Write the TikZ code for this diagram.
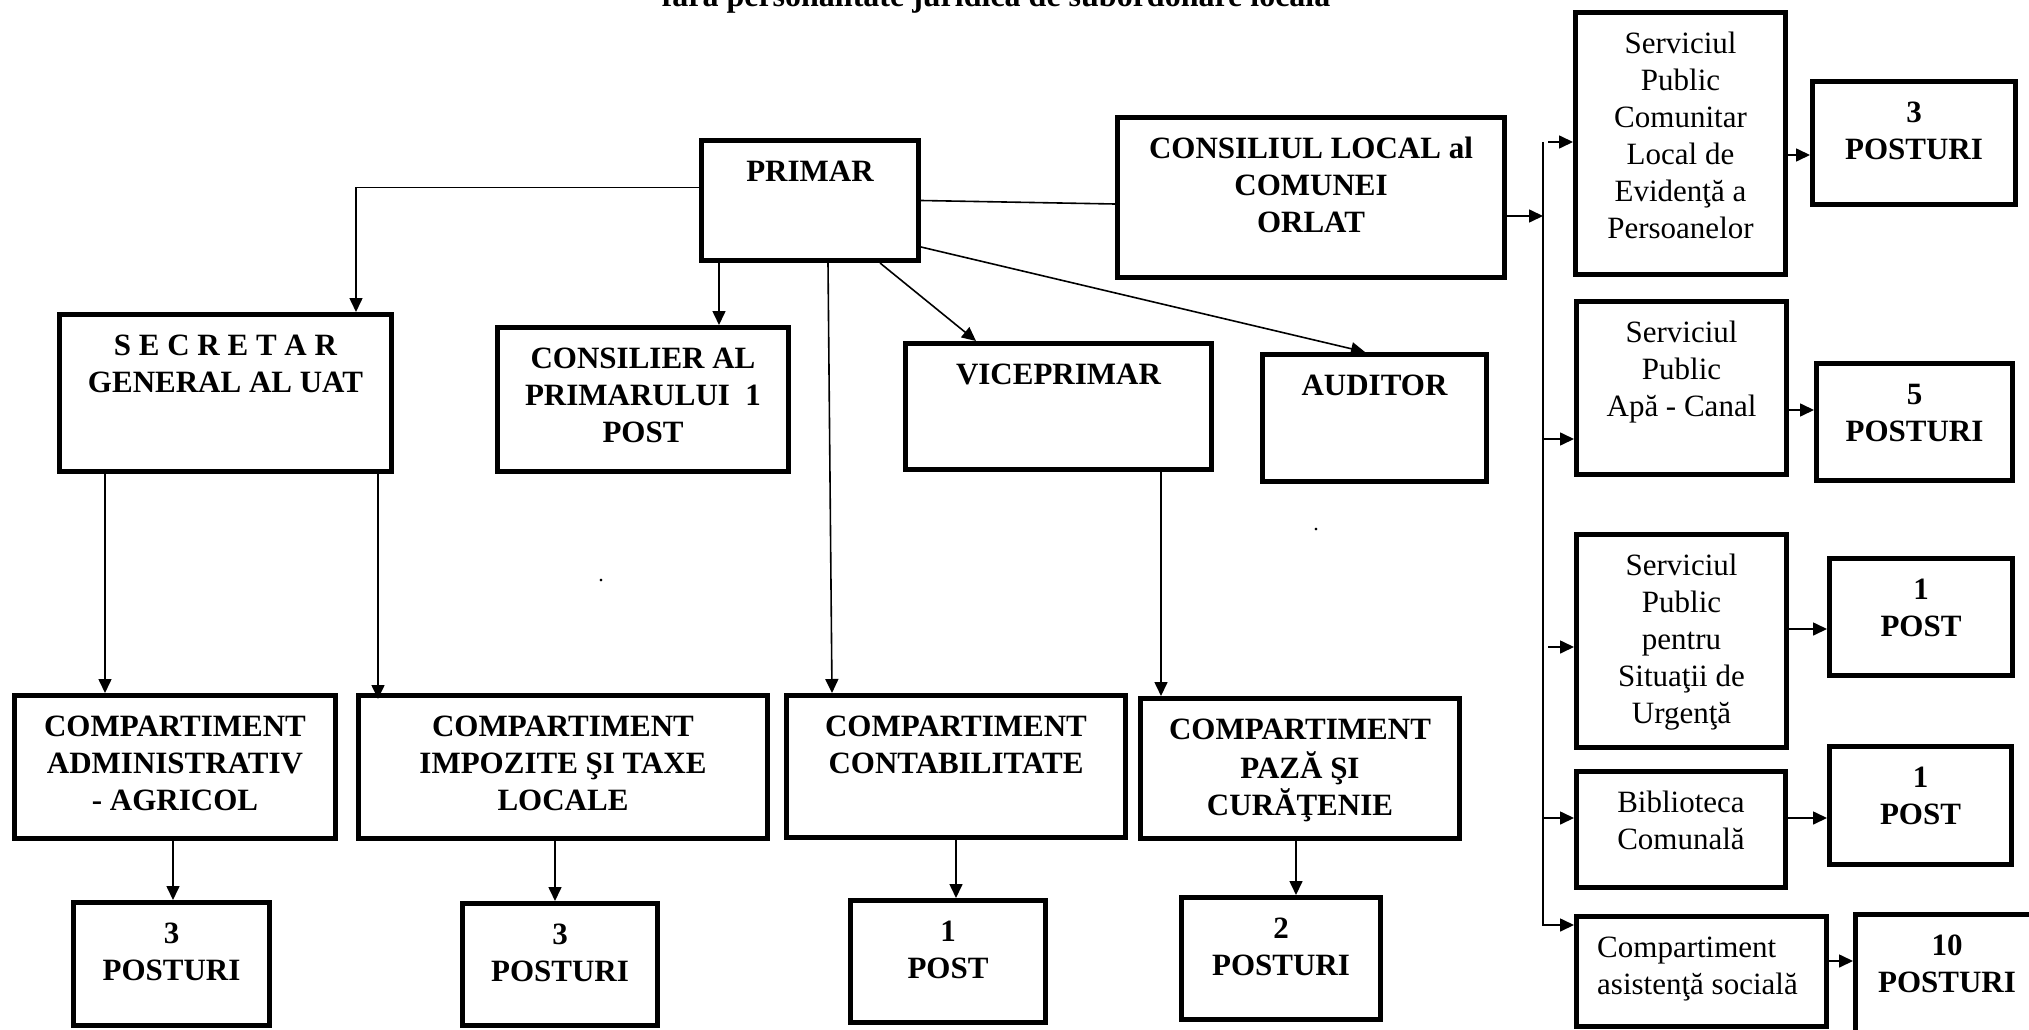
\documentclass[tikz,border=0pt]{standalone}
\usepackage{fontspec}
\setmainfont{Liberation Serif}
\usetikzlibrary{arrows.meta,calc}
\newcommand{\orgbx}[7]{%
  \node[orgbox, anchor=north west, minimum width={#4-#2-5.3}, minimum height={#5-#3-5.3}] (#1) at (#2,#3) {};
  \node[#6] (#1-txt) at ([yshift=-17.6pt]#1.north) {\strut #7};%
}
\begin{document}
\begin{tikzpicture}[x=1pt,y=-1pt,
  orgbox/.style={draw, line width=5.3pt, inner sep=0pt},
  lb/.style={font=\fontsize{31}{37}\selectfont\bfseries, align=center, inner sep=0pt, anchor=north},
  lr/.style={font=\fontsize{31}{37}\selectfont, align=center, inner sep=0pt, anchor=north},
  lra/.style={font=\fontsize{31}{37}\selectfont, align=left, inner sep=0pt, anchor=north west, xshift=-104.5pt},
  arr/.style={line width=1.6pt, -{Triangle[length=14pt,width=13pt]}},
  conn/.style={line width=1.6pt},
  titlef/.style={font=\fontsize{32}{38}\selectfont\bfseries, inner sep=0pt},
  dotf/.style={font=\fontsize{22}{26}\selectfont, inner sep=0pt}]
\useasboundingbox (0,0) rectangle (2029,1030);
\clip (0,0) rectangle (2029,1030);
\fill[white] (0,0) rectangle (2029,1030);

\node[titlef, anchor=base] (title) at (996,7) {fără personalitate juridică de subordonare locală};

% central boxes
\orgbx{primar}{699}{138}{921}{263}{lb}{PRIMAR}
\orgbx{secretar}{57}{312}{394}{474}{lb}{S E C R E T A R\\GENERAL AL UAT}
\orgbx{consilier}{495}{325}{791}{474}{lb}{CONSILIER AL\\PRIMARULUI~~1\\POST}
\orgbx{vice}{903}{341}{1214}{472}{lb}{VICEPRIMAR}
\orgbx{auditor}{1260}{352}{1489}{484}{lb}{AUDITOR}
\orgbx{cl}{1115}{115}{1507}{280}{lb}{CONSILIUL LOCAL al\\COMUNEI\\ORLAT}

\orgbx{admin}{12}{693}{338}{841}{lb}{COMPARTIMENT\\ADMINISTRATIV\\- AGRICOL}
\orgbx{impozite}{356}{693}{770}{841}{lb}{COMPARTIMENT\\IMPOZITE ŞI TAXE\\LOCALE}
\orgbx{contab}{784}{693}{1128}{840}{lb}{COMPARTIMENT\\CONTABILITATE}
\orgbx{paza}{1138}{696}{1462}{841}{lb}{COMPARTIMENT\\PAZĂ ŞI\\CURĂŢENIE}

\orgbx{pa}{71}{900}{272}{1028}{lb}{3\\POSTURI}
\orgbx{pb}{460}{901}{660}{1028}{lb}{3\\POSTURI}
\orgbx{pc}{848}{898}{1048}{1025}{lb}{1\\POST}
\orgbx{pd}{1179}{895}{1383}{1022}{lb}{2\\POSTURI}

% right column
\orgbx{spc}{1573}{10}{1788}{277}{lr}{Serviciul\\Public\\Comunitar\\Local de\\Evidenţă a\\Persoanelor}
\orgbx{spcp}{1810}{79}{2018}{207}{lb}{3\\POSTURI}
\orgbx{apa}{1574}{299}{1789}{477}{lr}{Serviciul\\Public\\Apă - Canal}
\orgbx{apap}{1814}{361}{2015}{483}{lb}{5\\POSTURI}
\orgbx{su}{1574}{532}{1789}{750}{lr}{Serviciul\\Public\\pentru\\Situaţii de\\Urgenţă}
\orgbx{sup}{1827}{556}{2015}{678}{lb}{1\\POST}
\orgbx{bib}{1574}{769}{1788}{890}{lr}{Biblioteca\\Comunală}
\orgbx{bibp}{1827}{744}{2014}{867}{lb}{1\\POST}
\orgbx{as}{1574}{914}{1829}{1029}{lra}{Compartiment\\asistenţă socială}
\orgbx{asp}{1853}{912}{2041}{1045}{lb}{10\\POSTURI}

% stray dots
\node[dotf, anchor=base] (dot1) at (601,581) {.};
\node[dotf, anchor=base] (dot2) at (1316,530) {.};

% connectors from PRIMAR
\draw[arr] ([yshift=13pt]primar.west) -| ([xshift=130.5pt]secretar.north);
\draw[arr] ([xshift=-91pt]primar.south) -- ([xshift=-91pt]primar.south |- consilier.north);
\draw[arr] ([xshift=18pt]primar.south) -- ([xshift=-124pt]contab.north);
\draw[arr] ([xshift=70pt]primar.south) -- ([xshift=-82.5pt]vice.north);
\draw[arr] ([yshift=-46.5pt]primar.east) -- ([xshift=-9.5pt]auditor.north);
\draw[conn] (primar.east) -- ([yshift=-6.5pt]cl.west);

% secretar and others
\draw[arr] ([xshift=-120.5pt]secretar.south) -- ([xshift=-120.5pt]secretar.south |- admin.north);
\draw[arr] ([xshift=152.5pt]secretar.south) -- ([xshift=152.5pt,yshift=-6pt]secretar.south |- impozite.north);
\draw[arr] ([xshift=102.5pt]vice.south) -- ([xshift=102.5pt]vice.south |- paza.north);
\draw[arr] ([xshift=-2pt]admin.south) -- ([xshift=-2pt]admin.south |- pa.north);
\draw[arr] ([xshift=-8pt]impozite.south) -- ([xshift=-8pt]impozite.south |- pb.north);
\draw[arr] (contab.south) -- (contab.south |- pc.north);
\draw[arr] ([xshift=-4pt]paza.south) -- ([xshift=-4pt]paza.south |- pd.north);

% right bus
\coordinate (busT) at (1543,142);
\coordinate (busB) at (1543,925);
\draw[arr] ([yshift=-18.5pt]cl.east) -- ([yshift=-18.5pt]cl.east -| busT);
\draw[arr] (busT) -- (busB) -- (busB -| as.west);
\draw[arr] ([xshift=5pt]busT) -- (busT -| spc.west);
\draw[arr] ([yshift=-51pt]apa.west -| busT) -- ([yshift=-51pt]apa.west);
\draw[arr] ([xshift=5pt,yshift=-6pt]su.west -| busT) -- ([yshift=-6pt]su.west);
\draw[arr] ([yshift=11.5pt]bib.west -| busT) -- ([yshift=11.5pt]bib.west);

\draw[arr] ([yshift=-11.5pt]spc.east) -- ([yshift=-11.5pt]spc.east -| spcp.west);
\draw[arr] ([yshift=-22pt]apa.east) -- ([yshift=-22pt]apa.east -| apap.west);
\draw[arr] ([yshift=12pt]su.east) -- ([yshift=12pt]su.east -| sup.west);
\draw[arr] ([yshift=11.5pt]bib.east) -- ([yshift=11.5pt]bib.east -| bibp.west);
\draw[arr] ([yshift=10.5pt]as.east) -- ([yshift=10.5pt]as.east -| asp.west);
\end{tikzpicture}
\end{document}
